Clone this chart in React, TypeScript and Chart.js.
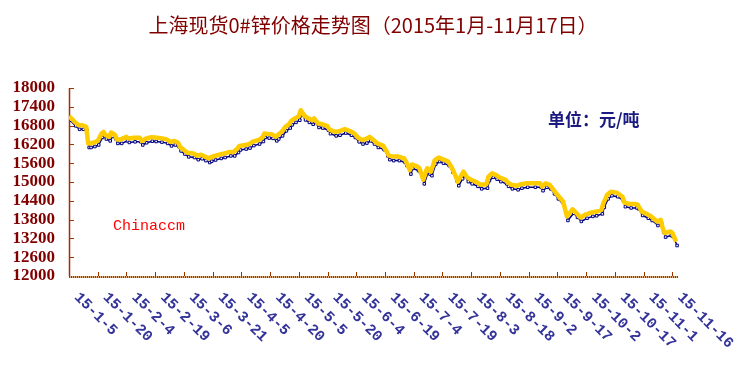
import { useEffect, useRef } from 'react';
import { Chart, registerables } from 'chart.js';

Chart.register(...registerables);

const TITLE = '上海现货0#锌价格走势图（2015年1月-11月17日）';
const UNIT_TEXT = '单位：元/吨';
const WATERMARK = 'Chinaccm';

// days counted from 2015-01-05
const dayOffsets = [
  0, 3, 5, 7, 9, 10, 11, 13, 15, 17, 18, 19, 21, 22, 24, 25, 27, 30, 31, 34,
  37, 38, 40, 43, 45, 48, 51, 53, 55, 57, 58, 60, 62, 65, 67, 69, 71, 73, 74, 76,
  79, 81, 84, 86, 88, 89, 92, 94, 96, 99, 101, 102, 104, 106, 108, 109, 111, 113, 115, 116,
  118, 120, 121, 123, 125, 127, 128, 130, 132, 135, 136, 139, 141, 144, 147, 149, 151, 153, 155, 157,
  159, 161, 164, 166, 167, 169, 172, 175, 176, 178, 179, 182, 183, 185, 187, 188, 189, 191, 193, 195,
  198, 200, 202, 203, 205, 206, 208, 210, 213, 215, 218, 219, 221, 223, 225, 228, 229, 231, 234, 236,
  239, 243, 246, 247, 249, 251, 253, 255, 258, 260, 263, 265, 267, 270, 273, 275, 278, 279, 281, 283,
  286, 289, 290, 293, 296, 297, 299, 302, 304, 307, 309, 310, 311, 314, 315, 317,
];

const prices = [
  17100, 16920, 16810, 16810, 16760, 16230, 16230, 16260, 16310, 16550, 16600, 16500, 16440, 16580, 16500, 16360, 16360, 16440, 16390, 16410,
  16410, 16310, 16380, 16430, 16420, 16400, 16360, 16280, 16310, 16250, 16120, 16020, 15930, 15910, 15840, 15870, 15810, 15750, 15790, 15830,
  15880, 15910, 15960, 15960, 16070, 16150, 16180, 16210, 16290, 16340, 16420, 16550, 16530, 16520, 16440, 16500, 16600, 16760, 16850, 16950,
  17030, 17100, 17290, 17110, 17030, 16970, 17030, 16870, 16850, 16780, 16670, 16600, 16620, 16690, 16620, 16550, 16410, 16340, 16370, 16440,
  16340, 16230, 16160, 15960, 15840, 15810, 15810, 15750, 15650, 15380, 15560, 15490, 15440, 15070, 15440, 15380, 15330, 15700, 15780, 15730,
  15650, 15440, 15170, 15010, 15230, 15330, 15140, 15070, 14990, 14910, 14930, 15170, 15280, 15220, 15140, 15070, 14990, 14910, 14880, 14930,
  14960, 14960, 14960, 14850, 14960, 14910, 14750, 14590, 14380, 13900, 14130, 14000, 13870, 13970, 14030, 14050, 14110, 14320, 14590, 14690,
  14660, 14530, 14340, 14300, 14300, 14270, 14060, 13970, 13900, 13740, 13790, 13530, 13370, 13420, 13380, 13100,
];

const xTickLabels = [
  '15-1-5', '15-1-20', '15-2-4', '15-2-19', '15-3-6', '15-3-21', '15-4-5', '15-4-20',
  '15-5-5', '15-5-20', '15-6-4', '15-6-19', '15-7-4', '15-7-19', '15-8-3', '15-8-18',
  '15-9-2', '15-9-17', '15-10-2', '15-10-17', '15-11-1', '15-11-16',
];
const TICK_STEP_DAYS = 15;
const X_MAX_DAY = 318;
const Y_MIN = 12000;
const Y_MAX = 18000;
const Y_STEP = 600;

const decorPlugin = {
  id: 'decor',
  beforeDatasetsDraw(chart: any) {
    const { ctx, chartArea, scales } = chart;
    const xs = scales.x;
    const ys = scales.y;
    const left = Math.round(chartArea.left);
    const bottom = Math.round(chartArea.bottom);
    const right = Math.round(chartArea.right);
    ctx.save();
    ctx.strokeStyle = '#993300';
    ctx.lineWidth = 1.5;
    ctx.beginPath();
    ctx.moveTo(left + 0.5, Math.round(ys.getPixelForValue(Y_MAX)));
    ctx.lineTo(left + 0.5, bottom);
    ctx.stroke();
    ctx.lineWidth = 1;
    ctx.beginPath();
    for (let v = Y_MIN; v <= Y_MAX; v += Y_STEP) {
      const py = Math.round(ys.getPixelForValue(v)) + 0.5;
      ctx.moveTo(left, py);
      ctx.lineTo(left + 5, py);
    }
    ctx.stroke();
    // checkered x axis
    ctx.lineWidth = 2;
    ctx.setLineDash([1, 1]);
    ctx.strokeStyle = '#993300';
    ctx.beginPath();
    ctx.moveTo(left, bottom + 1);
    ctx.lineTo(right, bottom + 1);
    ctx.stroke();
    ctx.lineDashOffset = 1;
    ctx.strokeStyle = '#e0b080';
    ctx.beginPath();
    ctx.moveTo(left, bottom + 1);
    ctx.lineTo(right, bottom + 1);
    ctx.stroke();
    ctx.setLineDash([]);
    ctx.strokeStyle = '#993300';
    ctx.lineWidth = 1;
    ctx.beginPath();
    xTickLabels.forEach((_, i) => {
      const px = Math.round(xs.getPixelForValue(i * TICK_STEP_DAYS)) + 0.5;
      ctx.moveTo(px, bottom);
      ctx.lineTo(px, bottom - 4);
    });
    ctx.stroke();
    ctx.restore();
  },
  beforeDatasetDraw(chart: any, args: any) {
    if (args.index === 1) {
      chart.ctx.save();
      chart.ctx.translate(1, 4);
    }
  },
  afterDatasetDraw(chart: any, args: any) {
    if (args.index === 1) chart.ctx.restore();
  },
  afterDraw(chart: any) {
    const { ctx, scales } = chart;
    const xs = scales.x;
    ctx.save();
    ctx.fillStyle = '#800000';
    ctx.font = '20px "Noto Sans CJK SC"';
    ctx.textAlign = 'center';
    ctx.textBaseline = 'middle';
    ctx.fillText(TITLE, 373, 25);

    ctx.fillStyle = '#1a1a80';
    ctx.font = 'bold 17px "Noto Sans CJK SC"';
    ctx.textAlign = 'left';
    ctx.fillText(UNIT_TEXT, 548, 120);

    ctx.fillStyle = '#ff0000';
    ctx.font = '15px "Liberation Mono"';
    ctx.fillText(WATERMARK, 113, 226);

    ctx.fillStyle = '#333399';
    ctx.font = 'bold 15px "Liberation Mono"';
    ctx.textBaseline = 'middle';
    ctx.textAlign = 'left';
    xTickLabels.forEach((label, i) => {
      const px = xs.getPixelForValue(i * TICK_STEP_DAYS);
      ctx.save();
      ctx.translate(px + 7.5, 295);
      ctx.rotate(Math.PI / 4);
      ctx.fillText(label, 0, 0);
      ctx.restore();
    });
    ctx.restore();
  },
};

export default function App() {
  const ref = useRef<HTMLCanvasElement>(null);
  useEffect(() => {
    const points = dayOffsets.map((d, i) => ({ x: d, y: prices[i] }));
    const chart = new Chart(ref.current as HTMLCanvasElement, {
      type: 'line',
      data: {
        datasets: [
          {
            label: 'price',
            data: points,
            borderColor: '#ffcc00',
            borderWidth: 4.5,
            pointRadius: 0,
            tension: 0,
            borderJoinStyle: 'round',
          },
          {
            label: 'shadow',
            data: points,
            borderColor: '#000080',
            borderWidth: 1.5,
            pointStyle: 'rect',
            pointRadius: 1.8,
            pointBorderWidth: 1,
            pointBorderColor: '#000080',
            pointBackgroundColor: '#ffffff',
            tension: 0,
          },
        ],
      },
      options: {
        animation: false,
        responsive: false,
        events: [],
        layout: { padding: { top: 88, right: 70, left: 0, bottom: 0 } },
        plugins: {
          legend: { display: false },
          tooltip: { enabled: false },
          title: { display: false },
        },
        scales: {
          x: {
            type: 'linear',
            min: 0,
            max: X_MAX_DAY,
            ticks: { display: false },
            grid: { display: false, drawTicks: false },
            border: { display: false },
            afterFit: (s: any) => {
              s.height = 93;
            },
          },
          y: {
            type: 'linear',
            min: Y_MIN,
            max: Y_MAX,
            ticks: {
              stepSize: Y_STEP,
              autoSkip: false,
              padding: 14,
              color: '#800000',
              font: { family: '"Liberation Serif"', size: 17, weight: 'bold', lineHeight: 1 },
              callback: (v: any) => String(v),
            },
            grid: { display: false, drawTicks: false },
            border: { display: false },
            afterFit: (s: any) => {
              s.width = 69;
            },
          },
        },
      },
      plugins: [decorPlugin],
    } as any);
    return () => chart.destroy();
  }, []);
  return (
    <div style={{ position: 'absolute', left: 0, top: 0, width: 748, height: 369, background: '#fff' }}>
      <canvas ref={ref} width={748} height={369} style={{ display: 'block', width: 748, height: 369 }} />
    </div>
  );
}
